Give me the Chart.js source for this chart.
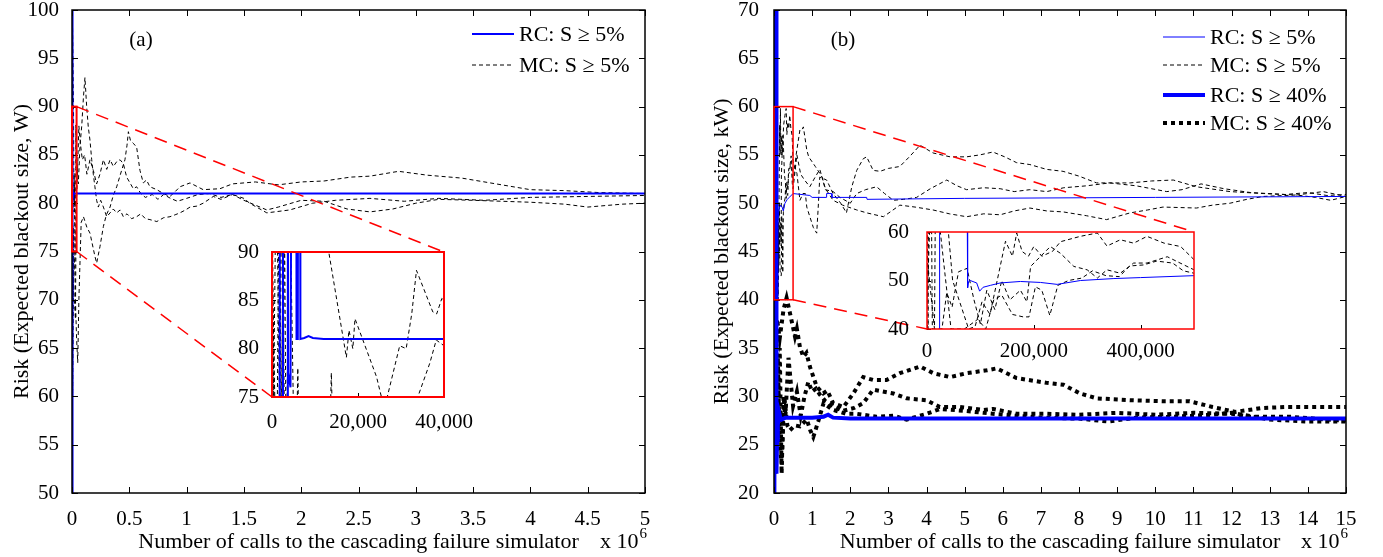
<!DOCTYPE html>
<html>
<head>
<meta charset="utf-8">
<script src="https://cdn.jsdelivr.net/npm/chart.js@4.4.1/dist/chart.umd.min.js"></script>
<style>
  html, body { margin: 0; padding: 0; background: #fff; }
  #wrap { position: relative; width: 1383px; height: 557px; overflow: hidden; }
  canvas { position: absolute; }
</style>
</head>
<body>
<div id="wrap">
  <canvas id="mainA" width="700" height="577" style="left:0px;top:-20px"></canvas>
  <canvas id="mainB" width="683" height="577" style="left:700px;top:-20px"></canvas>
  <canvas id="insetA" width="300" height="210" style="left:200px;top:226px"></canvas>
  <canvas id="insetB" width="400" height="160" style="left:850px;top:206px"></canvas>
</div>
<script>
// all x values are in thousands of calls to the simulator

// ---- panel (a) ----
const ticksAX = [0, 500, 1000, 1500, 2000, 2500, 3000, 3500, 4000, 4500, 5000];
const ticksAY = [50, 55, 60, 65, 70, 75, 80, 85, 90, 95, 100];
const ticksAInsetX = [0, 20, 40];
const ticksAInsetY = [75, 80, 85, 90];
const zoomA = { x: [0, 40], y: [75, 90] };
const labelsA = ['RC: S \u2265 5%', 'MC: S \u2265 5%'];

const rcA5 = [[0,50],[1.79,55],[1.8,100],[2.55,100],[2.56,60],[3.6,60],[3.65,100],[3.72,100],[3.75,77.5],[4.3,76],[4.5,100],[5.67,100],[5.7,81],[6.0,81],[6.05,100],[6.55,100],[6.6,81],[7.5,81.1],[8.5,81.3],[9.5,81.1],[12,81],[5000,81]];

const mcA1 = [[0,60],[1,100],[2,65],[2.8,100],[3.5,55],[5.7,70],[6,78],[6.3,70],[26.8,75],[29.7,80.3],[31.2,80],[32.5,83.6],[33.6,88.1],[37.4,83.8],[38.3,83.6],[39.5,85.2],[40,85],[55,82],[70,86],[85,88],[100,91],[113,93],[128,90],[142,87.9],[157,86.5],[172,84.5],[186,83],[200,81.7],[215,80.3],[230,79.6],[250,80.3],[274,79.6],[303,78.6],[332,79],[360,79.4],[390,79],[420,79.3],[448,78.6],[480,78.9],[520,78.4],[564,78.6],[600,78.9],[640,78.4],[680,78.3],[740,78.1],[800,78.5],[855,78.6],[900,78.8],[942,79],[990,79.3],[1030,79.6],[1090,79.7],[1145,80],[1233,80.7],[1300,80.4],[1400,80.9],[1500,80.3],[1600,79.8],[1700,79.3],[1800,79.6],[2000,80.3],[2200,80.2],[2400,79.4],[2600,79.1],[2800,79.4],[3000,80],[3200,80.4],[3500,80.3],[4000,80.1],[4300,79.9],[4500,79.6],[4800,79.9],[5000,80]];

const mcA2 = [[0,90],[1.5,55],[2.3,100],[3.2,58],[4,100],[5.5,60],[13.5,72],[13.8,77.5],[14.1,72],[20,70],[30,68],[33.9,75],[36.7,78.5],[38.2,80.9],[40,80.3],[50,84],[60,88],[75,86],[90,84.5],[110,85],[130,83],[157,84.5],[186,83.4],[215,82],[244,83],[274,84.5],[303,83.5],[332,84.5],[361,83.8],[390,84.3],[419,84.5],[448,84.1],[477,82.7],[506,82.1],[535,81.5],[564,81.7],[600,81],[640,80.6],[700,80.9],[750,80.4],[800,80.9],[860,80.5],[920,80.2],[1000,80.5],[1100,80.9],[1200,81],[1300,80.6],[1400,80.9],[1500,80.5],[1550,80],[1700,79],[1900,79.3],[2100,80],[2300,80.3],[2600,80.5],[2900,80.2],[3200,80.5],[3600,80.3],[4000,80.6],[4500,80.7],[5000,80.8]];

const mcA3 = [[0,100],[0.8,50],[1.7,100],[2.4,60],[3,100],[13.2,90],[17.3,79.1],[17.9,81.9],[18.8,80],[19.3,83.1],[24.3,77.1],[26,74],[30,70],[40,66],[50,63.5],[60,70],[80,78],[100,78.6],[130,77.5],[157,76.9],[200,74.5],[215,73.8],[244,75.5],[274,77.6],[300,78.8],[332,79.6],[360,80.8],[390,81.7],[433,83.4],[462,84.5],[480,86],[492,87.4],[510,86.5],[535,86.2],[564,85.8],[593,83.4],[622,82.1],[650,82.4],[680,81.7],[740,81.4],[797,81],[855,80.7],[900,81.2],[942,81.7],[1030,82.1],[1145,81.4],[1291,81.5],[1400,82],[1600,82.2],[1800,81.9],[2000,82.2],[2200,82.3],[2430,82.7],[2600,82.8],[2850,83.3],[3100,82.9],[3400,82.6],[3700,82],[4000,81.4],[4300,81.3],[4600,81.1],[5000,81]];

// ---- panel (b) ----
const ticksBX = [0, 1000, 2000, 3000, 4000, 5000, 6000, 7000, 8000, 9000, 10000, 11000, 12000, 13000, 14000, 15000];
const ticksBY = [20, 25, 30, 35, 40, 45, 50, 55, 60, 65, 70];
const ticksBInsetX = [0, 200, 400];
const ticksBInsetY = [40, 50, 60];
const zoomB = { x: [0, 500], y: [40, 60] };
const labelsB = ['RC: S \u2265 5%', 'MC: S \u2265 5%', 'RC: S \u2265 40%', 'MC: S \u2265 40%'];

const rcB5 = [[0,20],[23,20],[23.6,70],[75,70],[76.1,48.5],[78,49.8],[81,50],[88,49.7],[93,49.5],[98.6,47.8],[105,48.6],[118.7,49],[137.4,49.5],[175,49.8],[212.5,49.6],[243.7,49.2],[287.5,50],[350,50.4],[400,50.6],[500,51],[940,50.8],[1000,50.6],[1370,50.6],[1380,51],[1510,51],[1520,50.6],[2430,50.6],[2440,50.4],[5000,50.5],[10000,50.6],[15000,50.7]];

const mcB5a = [[0,68],[2,40],[3,70],[40,60],[48,50],[78,40],[90,40.5],[103,45.6],[118,43],[147,58.1],[160,55],[168,59.8],[178,56],[190,55],[200,57],[215,55],[235,56],[250,58],[287,59.1],[319,59.8],[337,57.1],[362,58.4],[387,57.7],[412,59.1],[444,57.7],[475,57],[500,54.3],[600,53.1],[680,50.3],[760,51],[822,51],[860,49.6],[940,48.6],[1030,47.5],[1120,46.9],[1160,49.6],[1200,52.7],[1380,52.4],[1550,51],[1750,50],[1900,49],[2040,51.7],[2170,53.4],[2340,54.6],[2430,54.8],[2600,53.4],[2780,53.3],[3000,53.6],[3300,53.8],[3550,54.8],[3830,56],[4170,55.2],[4620,54.8],[5050,54.8],[5400,55],[5740,55.3],[6050,54.8],[6360,54.2],[6710,54],[7150,53.5],[7580,53.3],[8000,52.8],[8460,52.1],[9340,52.1],[9900,52.3],[10470,52.4],[11080,51.7],[11960,51.2],[12830,51],[13700,50.85],[14400,51.2],[15000,50.7]];

const mcB5b = [[0,45],[8,70],[10,40],[28,40],[37,47.5],[47,44.5],[59,51.8],[75,52.5],[88,46],[100,41],[112,48],[127,44],[140,50],[155,46],[175,48],[187,45.6],[194,52.9],[212,54.9],[231,57],[250,55.6],[275,52.9],[300,52.2],[319,50.5],[337,52.2],[362,51.5],[387,53.6],[412,53.6],[450,54.9],[500,52.2],[580,55],[680,57.6],[734,57.6],[770,57.9],[860,55.5],[910,54.8],[1083,53.8],[1200,53.1],[1259,52.7],[1346,51.4],[1550,51.2],[1730,50.6],[2000,50],[2170,51],[2400,51.4],[2690,51.7],[2900,51],[3130,50.3],[3400,50.4],[3740,50.6],[4100,51.5],[4530,52.4],[4800,51.8],[5050,51.4],[5500,51.6],[5930,51.5],[6300,51.2],[6710,51.4],[7150,51.2],[7600,51.6],[8200,51.8],[8800,52.1],[9500,51.8],[10300,51.2],[10700,51.4],[11200,52],[11800,51.5],[12500,51.1],[13400,50.9],[14000,51.1],[14500,50.8],[15000,50.9]];

const mcB5c = [[0,55],[14,40],[16,70],[20,65],[45,40],[70,40],[95,42],[110,40],[125,46],[140,47],[160,43],[180,42.5],[191,42.5],[203,48.7],[215,48],[230,42.8],[245,49],[265,50],[290,50.5],[310,52],[335,51],[360,50.8],[380,53],[405,53.2],[430,54],[460,53.6],[480,52],[500,51.5],[600,55],[700,53],[800,52.4],[940,51.7],[1050,52.5],[1200,53.5],[1350,51.5],[1550,50.3],[1800,49.8],[2170,49.3],[2430,49],[2870,48.6],[3300,49.8],[3700,49.6],[4170,49.3],[4600,48.9],[5050,48.6],[5500,48.9],[5930,48.8],[6300,49.2],[6710,49.5],[7150,49.2],[7580,49.1],[8200,48.7],[8720,48.3],[9340,49],[9800,49.3],[10200,49.6],[11080,49.5],[11500,49.8],[11960,50],[12400,50.4],[12830,50.7],[13700,50.85],[14200,50.6],[14600,50.3],[15000,50.7]];

const rcB40 = [[0,20],[5,70],[15,20],[30,70],[45,25],[55,70],[65,22],[80,25.5],[100,27],[130,28.4],[160,27.9],[200,27.6],[300,27.8],[1000,27.8],[1300,27.9],[1420,28.1],[1550,27.8],[2000,27.7],[15000,27.7]];

const mcB40a = [[30,30],[80,38],[150,36],[250,39],[330,40.2],[420,38.6],[550,36.2],[600,37],[680,35.1],[770,34.1],[850,34.5],[940,33.1],[1120,31],[1290,30.3],[1400,30.6],[1550,29.3],[1820,28.9],[2080,30.3],[2340,32],[2600,31.7],[2950,31.7],[3300,32.4],[3830,33.1],[4180,32.4],[4620,32],[5050,32.4],[5580,32.7],[5840,32.9],[6360,31.9],[7150,31.4],[7590,31.2],[8030,30.3],[8460,29.8],[9340,29.6],[10200,29.5],[10900,29.5],[11500,28.9],[12100,28.4],[12800,28.8],[13400,28.9],[14100,28.9],[15000,28.9]];

const mcB40b = [[20,22],[60,32],[100,26],[150,35],[200,22],[250,30],[300,28],[380,34],[450,31],[500,29],[600,30.5],[700,28],[800,30],[900,31.5],[1000,30.5],[1100,30.8],[1200,30.2],[1350,29.5],[1550,29],[1800,28.5],[2100,28.8],[2340,29.3],[2600,30.7],[3130,30.3],[3480,29.8],[4000,29.6],[4350,28.9],[4880,28.9],[5490,28.6],[5750,28.7],[6360,28.2],[7150,28.2],[8000,28.1],[9000,28.3],[10000,28.1],[11000,28.3],[12000,28.2],[12500,27.9],[13500,27.9],[14500,27.6],[15000,27.5]];

const mcB40c = [[20,28],[50,24],[100,34],[150,25],[200,23],[270,30],[350,27],[420,26.5],[550,27],[680,26.9],[860,27.6],[950,26.5],[1030,25.8],[1160,27.4],[1300,29.3],[1550,28.6],[1900,28.2],[2170,28.2],[2690,27.9],[3130,28],[3480,27.6],[4000,28.2],[4350,28.7],[5000,28.5],[5500,28.3],[6000,28.1],[7000,27.8],[8000,27.7],[8760,27.4],[9500,27.8],[10500,27.9],[11500,28.1],[12000,28.3],[13000,27.6],[14000,27.4],[15000,27.4]];

Chart.defaults.font.family = "'Liberation Serif', 'Times New Roman', serif";
Chart.defaults.font.size = 21;
Chart.defaults.color = '#000';

const SERIF = "'Liberation Serif', 'Times New Roman', serif";
const BLUE = '#0000ff';
const RED = '#ff0000';

// line styles
const styleRCa = { borderColor: BLUE, borderWidth: 2 };
const styleRC5 = { borderColor: BLUE, borderWidth: 1 };
const styleMC5 = { borderColor: '#000', borderWidth: 1, borderDash: [4, 3] };
const styleRC40 = { borderColor: BLUE, borderWidth: 4 };
const styleMC40 = { borderColor: '#000', borderWidth: 4, borderDash: [4, 4] };

function series(arr, style) {
  return Object.assign({
    data: arr.map(([x, y]) => ({ x, y })),
    pointRadius: 0, tension: 0, fill: false, borderCapStyle: 'butt'
  }, style);
}

const commas = v => Math.round(v * 1000).toLocaleString('en-US');
const millions = v => String(v / 1000);

function axisOptions(opt) {
  return {
    responsive: false, animation: false, devicePixelRatio: 1,
    layout: { padding: { left: 0, top: opt.top, right: opt.right, bottom: 0 } },
    plugins: { legend: { display: false }, tooltip: { enabled: false } },
    scales: {
      x: {
        type: 'linear', min: opt.xMin, max: opt.xMax,
        grid: { display: false }, border: { display: false },
        afterBuildTicks: s => { s.ticks = opt.xTicks.map(v => ({ value: v })); },
        afterFit: s => { s.height = opt.xHeight; },
        ticks: { padding: opt.xPad, maxRotation: 0, autoSkip: false, callback: opt.xFmt, font: { size: opt.font } }
      },
      y: {
        type: 'linear', min: opt.yTicks[0], max: opt.yTicks[opt.yTicks.length - 1],
        grid: { display: false }, border: { display: false },
        afterBuildTicks: s => { s.ticks = opt.yTicks.map(v => ({ value: v })); },
        afterFit: s => { s.width = opt.yWidth; },
        ticks: { padding: opt.yPad, autoSkip: false, font: { size: opt.font } }
      }
    }
  };
}

// box around the plot area with MATLAB-style inward tick marks
function framePlugin(cfg) {
  return {
    id: 'frame',
    beforeDatasetsDraw(chart) {
      if (!cfg.fill) return;
      const { ctx, chartArea: a } = chart;
      ctx.save();
      ctx.fillStyle = cfg.fill;
      ctx.fillRect(a.left, a.top, a.width, a.height);
      ctx.restore();
    },
    afterDatasetsDraw(chart) {
      const { ctx, chartArea: a, scales: { x, y } } = chart;
      const len = cfg.tick;
      ctx.save();
      ctx.strokeStyle = '#000';
      ctx.lineWidth = 1;
      ctx.beginPath();
      x.ticks.forEach(t => {
        const px = Math.round(x.getPixelForValue(t.value)) + 0.5;
        ctx.moveTo(px, a.bottom); ctx.lineTo(px, a.bottom - len);
        if (cfg.allSides) { ctx.moveTo(px, a.top); ctx.lineTo(px, a.top + len); }
      });
      y.ticks.forEach(t => {
        const py = Math.round(y.getPixelForValue(t.value)) + 0.5;
        ctx.moveTo(a.left, py); ctx.lineTo(a.left + len, py);
        if (cfg.allSides) { ctx.moveTo(a.right, py); ctx.lineTo(a.right - len, py); }
      });
      ctx.stroke();
      ctx.strokeStyle = cfg.border;
      ctx.lineWidth = cfg.borderWidth;
      ctx.strokeRect(a.left, a.top, a.width, a.height);
      ctx.restore();
    }
  };
}

// zoom window, connector lines to the inset, legend and axis titles
function panelPlugin(cfg) {
  return {
    id: 'panel',
    afterDraw(chart) {
      const { ctx, chartArea: a, scales: { x, y } } = chart;
      ctx.save();

      const x0 = x.getPixelForValue(cfg.zoom.x[0]), x1 = x.getPixelForValue(cfg.zoom.x[1]);
      const y0 = y.getPixelForValue(cfg.zoom.y[0]), y1 = y.getPixelForValue(cfg.zoom.y[1]);
      ctx.strokeStyle = RED;
      ctx.lineWidth = cfg.zoomWidth;
      ctx.strokeRect(x0, y1, x1 - x0, y0 - y1);

      const ia = cfg.inset.chartArea;
      const dx = cfg.insetPos[0] - cfg.pos[0], dy = cfg.insetPos[1] - cfg.pos[1];
      ctx.lineWidth = 1.5;
      ctx.setLineDash([13, 8]);
      ctx.beginPath();
      ctx.moveTo(x1, y1); ctx.lineTo(ia.right + dx, ia.top + dy);
      ctx.moveTo(x1, y0); ctx.lineTo(ia.left + dx, ia.bottom + dy);
      ctx.stroke();
      ctx.setLineDash([]);

      // legend
      cfg.legend.forEach((item, i) => {
        const ly = a.top + cfg.legendRows[i];
        const lx0 = a.right - cfg.legendX, lx1 = lx0 + 42;
        ctx.strokeStyle = item.style.borderColor;
        ctx.lineWidth = item.style.borderWidth;
        ctx.setLineDash(item.style.borderDash || []);
        ctx.beginPath();
        ctx.moveTo(lx0, ly); ctx.lineTo(lx1, ly);
        ctx.stroke();
        ctx.setLineDash([]);
        ctx.fillStyle = '#000';
        ctx.font = '22px ' + SERIF;
        ctx.textAlign = 'left';
        ctx.textBaseline = 'middle';
        ctx.fillText(item.label, lx1 + 5, ly + 1);
      });

      // panel tag
      ctx.font = '21px ' + SERIF;
      ctx.textAlign = 'center';
      ctx.textBaseline = 'middle';
      ctx.fillText(cfg.tag, a.left + cfg.tagX, a.top + 30);

      // axis titles
      ctx.font = '22px ' + SERIF;
      ctx.textBaseline = 'alphabetic';
      ctx.fillText('Number of calls to the cascading failure simulator', (a.left + a.right) / 2, a.bottom + 55);
      ctx.textAlign = 'left';
      ctx.fillText('x 10', a.right - 45, a.bottom + 55);
      const w = ctx.measureText('x 10').width;
      ctx.font = '15px ' + SERIF;
      ctx.fillText('6', a.right - 45 + w + 1, a.bottom + 45);

      ctx.font = '22px ' + SERIF;
      ctx.translate(22, (a.top + a.bottom) / 2);
      ctx.rotate(-Math.PI / 2);
      ctx.textAlign = 'center';
      ctx.textBaseline = 'middle';
      ctx.fillText(cfg.yTitle, 0, 0);
      ctx.restore();
    }
  };
}

// ---- insets ----
const insetA = new Chart(document.getElementById('insetA'), {
  type: 'line',
  data: { datasets: [series(rcA5, styleRCa), series(mcA1, styleMC5), series(mcA2, styleMC5), series(mcA3, styleMC5)] },
  options: axisOptions({ top: 26, right: 56, xHeight: 39, yWidth: 72, xPad: 5, yPad: 5, font: 21,
    xMin: zoomA.x[0], xMax: zoomA.x[1], xTicks: ticksAInsetX, yTicks: ticksAInsetY, xFmt: commas }),
  plugins: [framePlugin({ fill: '#fff', tick: 4, allSides: false, border: RED, borderWidth: 2 })]
});

const insetB = new Chart(document.getElementById('insetB'), {
  type: 'line',
  data: { datasets: [series(rcB5, styleRC5), series(mcB5a, styleMC5), series(mcB5b, styleMC5), series(mcB5c, styleMC5)] },
  options: axisOptions({ top: 26, right: 56, xHeight: 37, yWidth: 77, xPad: 2, yPad: 10, font: 21,
    xMin: zoomB.x[0], xMax: zoomB.x[1], xTicks: ticksBInsetX, yTicks: ticksBInsetY, xFmt: commas }),
  plugins: [framePlugin({ fill: '#fff', tick: 4, allSides: false, border: RED, borderWidth: 1.5 })]
});

// ---- main panels ----
new Chart(document.getElementById('mainA'), {
  type: 'line',
  data: { datasets: [series(rcA5, styleRCa), series(mcA1, styleMC5), series(mcA2, styleMC5), series(mcA3, styleMC5)] },
  options: axisOptions({ top: 30, right: 55, xHeight: 64, yWidth: 72, xPad: 6, yPad: 5, font: 21,
    xMin: 0, xMax: 5000, xTicks: ticksAX, yTicks: ticksAY, xFmt: millions }),
  plugins: [
    framePlugin({ tick: 6, allSides: true, border: '#000', borderWidth: 1.5 }),
    panelPlugin({ zoom: zoomA, inset: insetA, pos: [0, -20], insetPos: [200, 226], tag: '(a)', tagX: 69,
      zoomWidth: 2, yTitle: 'Risk (Expected blackout size, W)', legendX: 173, legendRows: [24, 55],
      legend: [{ label: labelsA[0], style: styleRCa }, { label: labelsA[1], style: styleMC5 }] })
  ]
});

new Chart(document.getElementById('mainB'), {
  type: 'line',
  data: { datasets: [series(rcB40, styleRC40), series(rcB5, styleRC5),
    series(mcB5a, styleMC5), series(mcB5b, styleMC5), series(mcB5c, styleMC5),
    series(mcB40a, styleMC40), series(mcB40b, styleMC40), series(mcB40c, styleMC40)] },
  options: axisOptions({ top: 30, right: 37, xHeight: 64, yWidth: 74, xPad: 6, yPad: 7, font: 21,
    xMin: 0, xMax: 15000, xTicks: ticksBX, yTicks: ticksBY, xFmt: millions }),
  plugins: [
    framePlugin({ tick: 6, allSides: true, border: '#000', borderWidth: 1.5 }),
    panelPlugin({ zoom: zoomB, inset: insetB, pos: [700, -20], insetPos: [850, 206], tag: '(b)', tagX: 69,
      zoomWidth: 1.5, yTitle: 'Risk (Expected blackout size, kW)', legendX: 183, legendRows: [27, 55, 85, 113],
      legend: [{ label: labelsB[0], style: styleRC5 }, { label: labelsB[1], style: styleMC5 },
        { label: labelsB[2], style: styleRC40 }, { label: labelsB[3], style: styleMC40 }] })
  ]
});
</script>
</body>
</html>
